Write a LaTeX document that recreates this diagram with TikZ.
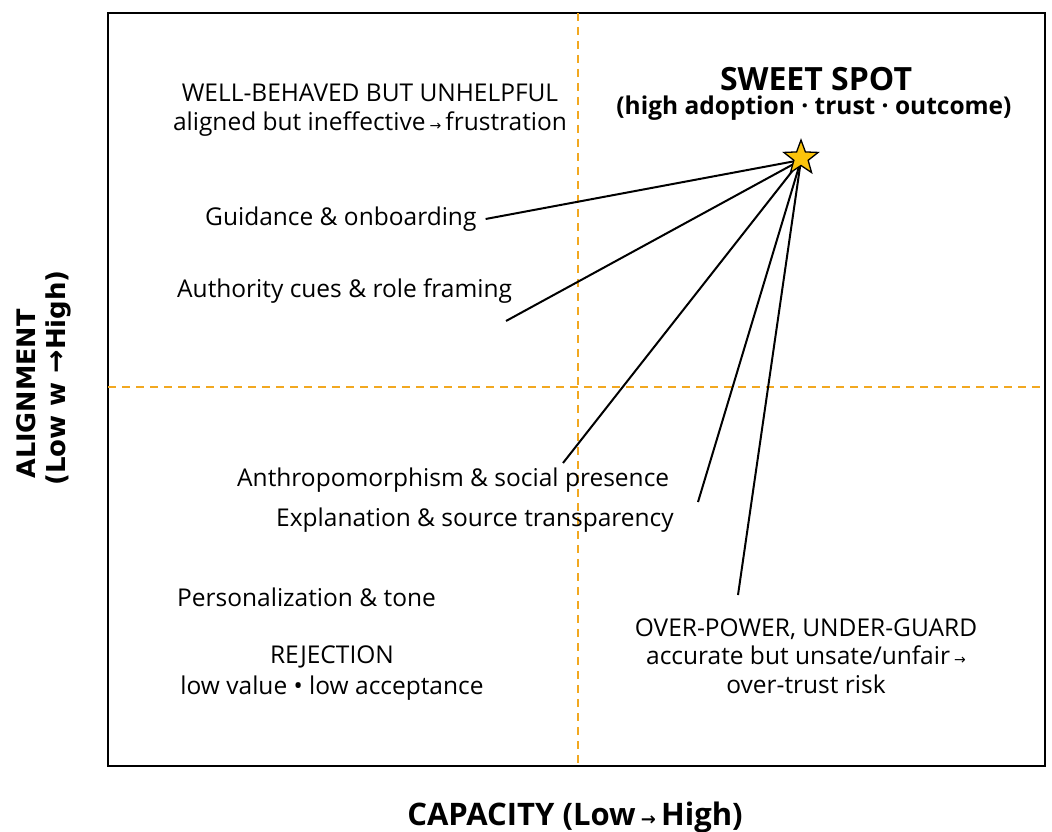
\documentclass[tikz,border=0pt]{standalone}
\usepackage{fontspec}
\setmainfont{Open Sans}
\newfontfamily\arrowfont{DejaVu Sans}
\newfontfamily\axisfont{DejaVu Sans}
\usetikzlibrary{positioning, shapes.geometric}
\definecolor{gridorange}{RGB}{242,168,32}
\definecolor{staryellow}{RGB}{250,196,12}
\newcommand{\drawl}{\draw[line width=2pt]}
\newcommand{\txtf}{\fontsize{24.5}{28.5}\selectfont}
\newcommand{\arr}{{\arrowfont\fontsize{14}{14}\selectfont →}}

\begin{document}
\begin{tikzpicture}[x=1pt,y=-1pt]
\useasboundingbox (0,0) rectangle (1052,832);

% Khung va hai duong chia
\draw[line width=2.8pt] (108,13) rectangle (1045,766);
\draw[gridorange, line width=1.8pt, dash pattern=on 8pt off 6pt] (578,13) -- (578,766);
\draw[gridorange, line width=1.8pt, dash pattern=on 8pt off 6pt] (108,387) -- (1045,387);

% Nhan cac goc phan tu
\node[font=\fontsize{32}{36}\selectfont\bfseries] (sweet) at (816,79) {SWEET SPOT};
\node[font=\fontsize{24.5}{28}\selectfont\bfseries] (sweetsub) at (814,108) {(high adoption · trust · outcome)};
\node[align=center, font=\txtf] (wellb) at (370,110) {WELL-BEHAVED BUT UNHELPFUL\\aligned but ineffective\,\arr\,frustration};
\node[align=center, font=\fontsize{24.5}{31}\selectfont] (reject) at (332,673) {REJECTION\\low value • low acceptance};
\node[align=center, font=\txtf] (overp) at (806,656) {OVER-POWER, UNDER-GUARD\\accurate but unsate/unfair\,\arr\\over-trust risk};

% Cac yeu to thiet ke
\node[anchor=west, inner sep=0, font=\txtf] (guide) at (205,219) {Guidance \& onboarding};
\node[anchor=west, inner sep=0, font=\txtf] (author) at (177,291) {Authority cues \& role framing};
\node[anchor=west, inner sep=0, font=\txtf] (anthro) at (237,480) {Anthropomorphism \& social presence};
\node[anchor=west, inner sep=0, font=\txtf] (expl) at (276,520) {Explanation \& source transparency};
\node[anchor=west, inner sep=0, font=\txtf] (person) at (177,597) {Personalization \& tone};

% Diem cuoi cac duong noi
\coordinate (authend) at (506,321);
\coordinate (anthend) at (563,463);
\coordinate (explend) at (698,502);
\coordinate (overend) at (738,595);

% Cac duong toi ngoi sao
\coordinate (hub) at (801,160);
\drawl ([xshift=9pt]guide.east) -- (hub);
\drawl (authend) -- (hub);
\drawl (anthend) -- (hub);
\drawl (explend) -- (hub);
\drawl (overend) -- (hub);
\node[star, star points=5, star point ratio=2.4, draw, line width=1.3pt, fill=staryellow, minimum size=36pt, inner sep=0] (star) at (801,158) {};

% Ten truc
\node[rotate=90, font=\axisfont\fontsize{25.5}{30}\selectfont\bfseries] (alig) at (26,394) {ALIGNMENT};
\node[rotate=90, font=\axisfont\fontsize{26}{30}\selectfont\bfseries] (aligsub) at (58,378) {(Low w {\fontsize{28}{28}\selectfont→}High)};
\node[font=\fontsize{31}{35}\selectfont\bfseries] (capa) at (575,817) {CAPACITY (Low\,{\arrowfont\fontsize{18}{18}\selectfont →}\,High)};
\end{tikzpicture}
\end{document}
